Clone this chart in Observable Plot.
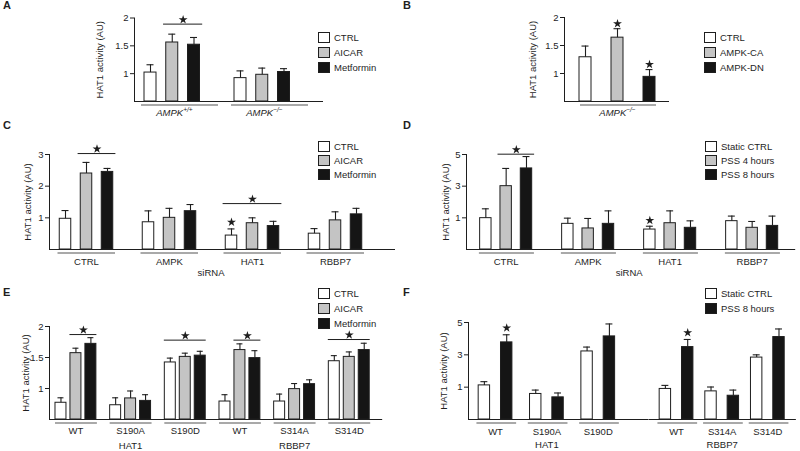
<!DOCTYPE html>
<html><head><meta charset="utf-8">
<script src="https://cdn.jsdelivr.net/npm/d3@7"></script>
<script src="https://cdn.jsdelivr.net/npm/@observablehq/plot@0.6"></script>
<style>
html,body{margin:0;padding:0;background:#fff;}
#fig{position:relative;width:800px;height:451px;overflow:hidden;font-family:"Liberation Sans",Arial,sans-serif;color:#1e1e1e;}
.panel{position:absolute;}
.letter{position:absolute;font-weight:bold;font-size:11px;line-height:11px;}
.sw{position:absolute;box-sizing:border-box;border:1px solid #1e1e1e;width:12px;height:11px;}
.lt{position:absolute;font-size:9.5px;line-height:11px;white-space:nowrap;}
</style></head><body><div id="fig"></div>
<script>
// ---------- data ----------
const seriesAC = ["CTRL", "AICAR", "Metformin"];
const seriesB = ["CTRL", "AMPK-CA", "AMPK-DN"];
const seriesD = ["Static CTRL", "PSS 4 hours", "PSS 8 hours"];
const seriesF = ["Static CTRL", "PSS 8 hours"];
const fill3 = ["#ffffff", "#c4c4c4", "#151515"];
const fill2 = ["#ffffff", "#151515"];

const groupsA = ["AMPK+/+", "AMPK\u2212/\u2212"];
const meanA = [[1.02, 1.56, 1.52], [0.92, 0.98, 1.03]];
const errA = [[1.16, 1.71, 1.65], [1.05, 1.10, 1.09]];
const sigA = [{row: 0, from: 1, to: 2, y: 1.89}];

const groupsB = ["AMPK\u2212/\u2212"];
const meanB = [[1.29, 1.64, 0.94]];
const errB = [[1.49, 1.80, 1.07]];
const starB = [{row: 0, s: 1, y: 1.89}, {row: 0, s: 2, y: 1.16}];

const groupsC = ["CTRL", "AMPK", "HAT1", "RBBP7"];
const meanC = [[0.97, 2.40, 2.45], [0.86, 1.00, 1.21], [0.44, 0.83, 0.74], [0.50, 0.92, 1.11]];
const errC = [[1.23, 2.75, 2.56], [1.22, 1.30, 1.42], [0.65, 1.00, 0.89], [0.66, 1.19, 1.30]];
const sigC = [{row: 0, from: 1, to: 2, y: 3.03}, {row: 2, from: 0, to: 2, y: 1.45}];
const starC = [{row: 2, s: 0, y: 0.86}];

const groupsD = ["CTRL", "AMPK", "HAT1", "RBBP7"];
const meanD = [[0.98, 3.00, 4.12], [0.62, 0.33, 0.62], [0.26, 0.66, 0.37], [0.79, 0.37, 0.49]];
const errD = [[1.57, 4.12, 4.87], [0.98, 0.96, 1.44], [0.47, 1.44, 0.81], [1.11, 0.77, 1.11]];
const sigD = [{row: 0, from: 1, to: 2, y: 5.02}];
const starD = [{row: 2, s: 0, y: 0.83}];

const mutantsE = ["WT", "S190A", "S190D", "WT", "S314A", "S314D"];
const genesE = ["HAT1", "HAT1", "HAT1", "RBBP7", "RBBP7", "RBBP7"];
const meanE = [[0.77, 1.57, 1.72], [0.73, 0.84, 0.80], [1.42, 1.51, 1.53], [0.79, 1.62, 1.49], [0.79, 0.99, 1.07], [1.44, 1.51, 1.62]];
const errE = [[0.85, 1.65, 1.82], [0.85, 0.96, 0.90], [1.49, 1.57, 1.60], [0.90, 1.72, 1.61], [0.91, 1.08, 1.14], [1.53, 1.59, 1.73]];
const sigE = [{row: 0, from: 1, to: 2, y: 1.87}, {row: 2, from: 0, to: 2, y: 1.78}, {row: 3, from: 1, to: 2, y: 1.78}, {row: 5, from: 0, to: 2, y: 1.79}];

const mutantsF = ["WT", "S190A", "S190D", "WT", "S314A", "S314D"];
const genesF = ["HAT1", "HAT1", "HAT1", "RBBP7", "RBBP7", "RBBP7"];
const meanF = [[1.11, 3.77], [0.58, 0.37], [3.21, 4.14], [0.89, 3.48], [0.74, 0.47], [2.83, 4.10]];
const errF = [[1.34, 4.24], [0.82, 0.64], [3.48, 4.91], [1.11, 3.95], [1.01, 0.82], [3.00, 4.60]];
const starF = [{row: 0, s: 1, y: 4.66}, {row: 3, s: 1, y: 4.37}];

const yTitle = "HAT1 activity (AU)";
const ticksA = [1, 1.5, 2], ticksC = [1, 2, 3], ticksD = [1, 3, 5];

// ---------- drawing ----------
const ink = "#1e1e1e", uline = "#8c8c8c";
const fig = document.getElementById("fig");

function build(cfg) {
  const u = px => px / cfg.slot;
  const fxOf = cfg.genes ? (i => cfg.genes[i]) : (i => cfg.rows[i]);
  const fxDomain = [...new Set(cfg.rows.map((r, i) => fxOf(i)))];
  const steps = [].concat(cfg.subStep || 0);
  const kOf = i => u(steps[Math.min(fxDomain.indexOf(fxOf(i)), steps.length - 1)]);
  const subOf = cfg.genes ? (i => i % 3) : (() => 0);
  const off = i => subOf(i) * kOf(i);
  const n = fxDomain.length;
  const W = cfg.W || cfg.S;
  const pi = 1 - W / cfg.S;
  const po = ((cfg.R - cfg.L) / cfg.S - n + pi) / 2;
  const lo = -u(cfg.c0), hi = u(W - cfg.c0);
  const [yMin, yMax] = cfg.y;
  const hw = u(cfg.bw) / 2, cap = u(cfg.cap) / 2, pad = 0.4;
  const bars = [];
  cfg.rows.forEach((r, i) => cfg.series.forEach((s, si) =>
    bars.push({fx: fxOf(i), x: off(i) + si, v: cfg.mean[i][si], e: cfg.err[i][si], s})));
  const base = fxDomain.map((g, i) => ({fx: g,
    x2: hi + u(i < n - 1 ? cfg.S - W : cfg.R - cfg.L - (n - 1) * cfg.S - W)}));
  const ul = cfg.rows.map((r, i) => ({fx: fxOf(i), x1: off(i) + u(cfg.ul[0]), x2: off(i) + u(cfg.ul[1])}));
  const labels = cfg.rows.map((r, i) => ({fx: fxOf(i), x: off(i) + cfg.labX, text: r}));
  const sig = (cfg.sig || []).map(d => ({fx: fxOf(d.row),
    x1: off(d.row) + d.from - pad, x2: off(d.row) + d.to + pad,
    xm: off(d.row) + (d.from + d.to) / 2, y: d.y}));
  const stars = (cfg.stars || []).map(d => ({fx: fxOf(d.row), x: off(d.row) + d.s, y: d.y}));
  const textOpts = {fx: "fx", x: "x", text: "text", frameAnchor: "bottom", lineAnchor: "bottom", fontSize: 9.5, fill: ink};
  const extra = [];
  if (cfg.genes) extra.push(Plot.text(cfg.rows.map((r, i) => i).filter(i => subOf(i) === 1)
      .map(i => ({fx: fxOf(i), x: off(i) + cfg.labX, text: fxOf(i)})), {...textOpts, dy: cfg.geneDy}));
  if (cfg.axisText) extra.push(Plot.text([{fx: fxDomain[1], x: cfg.labX + u(cfg.S) / 2, text: cfg.axisText}], {...textOpts, dy: cfg.axisDy}));

  const plot = Plot.plot({
    width: cfg.width, height: cfg.height,
    marginLeft: cfg.L - cfg.left, marginRight: cfg.left + cfg.width - cfg.R,
    marginTop: cfg.yTop - cfg.top, marginBottom: cfg.top + cfg.height - cfg.base,
    style: {fontFamily: '"Liberation Sans", Arial, sans-serif', fontSize: "9.5px", color: ink, background: "transparent", overflow: "visible"},
    fx: {domain: fxDomain, paddingInner: pi, paddingOuter: po, align: 0, axis: null},
    x: {domain: [lo, hi], axis: null},
    y: {domain: [yMin, yMax], ticks: cfg.ticks, tickSize: 4, tickPadding: 2, tickFormat: d => String(d),
        label: yTitle, labelAnchor: "center", labelOffset: cfg.labelOffset, labelArrow: "none"},
    color: {domain: cfg.series, range: cfg.colors},
    marks: [
      Plot.ruleY(base, {fx: "fx", y: yMin, x1: lo, x2: "x2", stroke: ink, strokeWidth: 1}),
      Plot.ruleX([fxDomain[0]], {fx: d => d, x: lo, y1: yMin, y2: yMax, stroke: ink, strokeWidth: 1}),
      Plot.ruleY(ul, {fx: "fx", y: yMin, x1: "x1", x2: "x2", dy: cfg.ulDy, stroke: uline, strokeWidth: 1.4}),
      Plot.rect(bars, {fx: "fx", x1: d => d.x - hw, x2: d => d.x + hw, y1: yMin, y2: "v", fill: "s", stroke: ink, strokeWidth: 1}),
      Plot.ruleX(bars, {fx: "fx", x: "x", y1: "v", y2: "e", stroke: ink, strokeWidth: 1.1}),
      Plot.ruleY(bars, {fx: "fx", y: "e", x1: d => d.x - cap, x2: d => d.x + cap, stroke: ink, strokeWidth: 1.1}),
      Plot.ruleY(sig, {fx: "fx", y: "y", x1: "x1", x2: "x2", stroke: ink, strokeWidth: 1}),
      Plot.dot(sig, {fx: "fx", x: "xm", y: "y", dy: -4.5, symbol: "star", r: 2.8, fill: ink, stroke: "none"}),
      Plot.dot(stars, {fx: "fx", x: "x", y: "y", symbol: "star", r: 2.8, fill: ink, stroke: "none"}),
      Plot.text(labels, {...textOpts, dy: cfg.labDy}),
      ...extra
    ]
  });
  const wrap = document.createElement("div");
  wrap.className = "panel";
  wrap.style.left = cfg.left + "px";
  wrap.style.top = cfg.top + "px";
  wrap.appendChild(plot);
  fig.appendChild(wrap);

  if (cfg.sup) {
    for (const t of plot.querySelectorAll("text")) {
      const m = t.textContent.match(/^AMPK(.+)$/);
      if (!m) continue;
      t.textContent = "";
      const ns = "http://www.w3.org/2000/svg";
      const a = document.createElementNS(ns, "tspan");
      a.textContent = "AMPK"; a.setAttribute("font-style", "italic");
      const b = document.createElementNS(ns, "tspan");
      b.textContent = m[1]; b.setAttribute("font-style", "italic");
      b.setAttribute("font-size", "6.5"); b.setAttribute("dy", "-3.5");
      t.appendChild(a); t.appendChild(b);
    }
  }
  // legend
  cfg.series.forEach((s, i) => {
    const top = cfg.legY + i * cfg.legStep;
    const box = document.createElement("div");
    box.className = "sw";
    box.style.left = cfg.legX + "px"; box.style.top = top + "px"; box.style.background = cfg.colors[i];
    fig.appendChild(box);
    const lt = document.createElement("div");
    lt.className = "lt"; lt.textContent = s;
    lt.style.left = (cfg.legX + 16) + "px"; lt.style.top = top + "px";
    fig.appendChild(lt);
  });
  // panel letter
  const L = document.createElement("div");
  L.className = "letter"; L.textContent = cfg.letter;
  L.style.left = cfg.letterX + "px"; L.style.top = cfg.letterY + "px";
  fig.appendChild(L);
}

build({letter: "A", letterX: 3, letterY: 0, left: 0, top: 0, width: 400, height: 125,
  L: 134, R: 323, yTop: 17.5, base: 101, y: [0.5, 2], ticks: ticksA, labelOffset: 38.5,
  rows: groupsA, series: seriesAC, colors: fill3, mean: meanA, err: errA, sig: sigA, stars: [],
  S: 90, slot: 21.75, c0: 16, bw: 12, cap: 7, ul: [-9, 68], ulDy: 3.5, labX: 1.1, labDy: 14, sup: true,
  legX: 318, legY: 32, legStep: 15});

build({letter: "B", letterX: 403, letterY: 0, left: 400, top: 0, width: 400, height: 125,
  L: 564, R: 669, yTop: 17, base: 101, y: [0.5, 2], ticks: ticksA, labelOffset: 35.5,
  rows: groupsB, series: seriesB, colors: fill3, mean: meanB, err: errB, sig: [], stars: starB,
  S: 105, slot: 32, c0: 21, bw: 12, cap: 7, ul: [-5, 71], ulDy: 3.5, labX: 1, labDy: 14, sup: true,
  legX: 704, legY: 32, legStep: 15});

build({letter: "C", letterX: 3, letterY: 120, left: 0, top: 130, width: 400, height: 150,
  L: 49, R: 395, yTop: 154, base: 249, y: [0, 3], ticks: ticksC, labelOffset: 25.5,
  rows: groupsC, series: seriesAC, colors: fill3, mean: meanC, err: errC, sig: sigC, stars: starC,
  S: 83, slot: 21, c0: 16, bw: 11.5, cap: 7, ul: [-7.5, 50], ulDy: 3.5, labX: 1, labDy: 15,
  axisText: "siRNA", axisDy: 26, legX: 318, legY: 141, legStep: 14});

build({letter: "D", letterX: 403, letterY: 120, left: 400, top: 130, width: 400, height: 150,
  L: 466, R: 798, yTop: 154, base: 249, y: [-1, 5], ticks: ticksD, labelOffset: 24.5,
  rows: groupsD, series: seriesD, colors: fill3, mean: meanD, err: errD, sig: sigD, stars: starD,
  S: 82.7, slot: 20.5, c0: 19.5, bw: 11.5, cap: 7, ul: [-6.5, 49], ulDy: 3.5, labX: 1, labDy: 15,
  axisText: "siRNA", axisDy: 26, legX: 705, legY: 141, legStep: 14});

build({letter: "E", letterX: 3, letterY: 287, left: 0, top: 300, width: 400, height: 151,
  L: 49, R: 383, yTop: 326, base: 419, y: [0.5, 2], ticks: ticksA, labelOffset: 27.5,
  rows: mutantsE, genes: genesE, series: seriesAC, colors: fill3, mean: meanE, err: errE, sig: sigE, stars: [],
  S: 164.4, slot: 15, c0: 11.5, subStep: 54.8, bw: 11, cap: 6, ul: [-5.5, 36.5], ulDy: 3.5, labX: 1, labDy: 14, geneDy: 29,
  legX: 318, legY: 288, legStep: 15});

build({letter: "F", letterX: 403, letterY: 287, left: 400, top: 300, width: 400, height: 151,
  L: 468, R: 798, yTop: 322, base: 419, y: [-1, 5], ticks: ticksD, labelOffset: 28.5,
  rows: mutantsF, genes: genesF, series: seriesF, colors: fill2, mean: meanF, err: errF, sig: [], stars: starF,
  S: 182, W: 130, slot: 22.5, c0: 16, subStep: [51.75, 46], bw: 11.5, cap: 7, ul: [-7.5, 32.5], ulDy: 3.5, labX: 0.5, labDy: 15, geneDy: 28,
  legX: 705, legY: 288, legStep: 15});
</script></body></html>
